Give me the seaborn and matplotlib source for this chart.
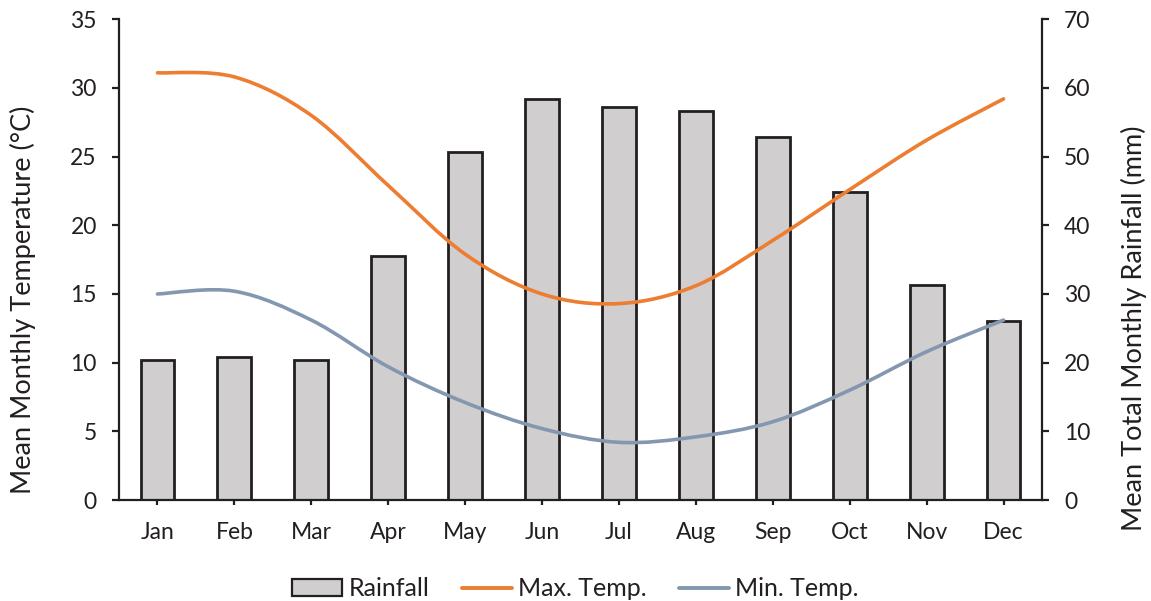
import numpy as np
import matplotlib
matplotlib.use("Agg")
import matplotlib.pyplot as plt
from matplotlib.path import Path
from matplotlib.patches import PathPatch, Patch
from matplotlib.lines import Line2D
import seaborn as sns

months = ["Jan", "Feb", "Mar", "Apr", "May", "Jun", "Jul", "Aug", "Sep", "Oct", "Nov", "Dec"]
rainfall = [20.4, 20.8, 20.4, 35.6, 50.6, 58.4, 57.2, 56.6, 52.9, 44.9, 31.3, 26.1]
max_temp = [31.1, 30.8, 28.0, 22.9, 17.9, 15.0, 14.3, 15.6, 18.9, 22.6, 26.2, 29.2]
min_temp = [15.0, 15.2, 13.1, 9.7, 7.1, 5.2, 4.2, 4.6, 5.7, 8.0, 10.8, 13.1]

sns.set_theme(style="white")
plt.rcParams["font.family"] = ["Lato", "DejaVu Sans"]

TXT = "#231F20"
BAR_FILL = "#D0CECE"
ORANGE = "#ED7D31"
BLUEGRAY = "#8497B0"

fig = plt.figure(figsize=(11.51, 6.01), dpi=100)
ax = fig.add_axes([0.1034, 0.168, 0.9053 - 0.1034, 0.968 - 0.168])
ax2 = ax.twinx()

# Bars (right axis)
sns.barplot(x=months, y=rainfall, ax=ax2, color=BAR_FILL, saturation=1,
            edgecolor=TXT, linewidth=2.0, width=0.44)


def smooth_path(xs, ys):
    pts = np.column_stack([xs, ys]).astype(float)
    n = len(pts)
    verts = [pts[0]]
    codes = [Path.MOVETO]
    for i in range(n - 1):
        p0 = pts[i - 1] if i > 0 else pts[i]
        p1 = pts[i]
        p2 = pts[i + 1]
        p3 = pts[i + 2] if i + 2 < n else pts[i + 1]
        c1 = p1 + (p2 - p0) / 6.0
        c2 = p2 - (p3 - p1) / 6.0
        verts += [c1, c2, p2]
        codes += [Path.CURVE4] * 3
    return Path(verts, codes)


xs = np.arange(len(months))
for vals, col in [(max_temp, ORANGE), (min_temp, BLUEGRAY)]:
    ax.add_patch(PathPatch(smooth_path(xs, vals), fill=False, edgecolor=col,
                           linewidth=2.6, capstyle="round", joinstyle="round"))

ax.set_zorder(ax2.get_zorder() + 1)
ax.patch.set_visible(False)

ax.set_xlim(-0.5, 11.5)
ax2.set_xlim(-0.5, 11.5)
ax.set_ylim(0, 35)
ax2.set_ylim(0, 70)
ax.set_yticks(np.arange(0, 36, 5))
ax2.set_yticks(np.arange(0, 71, 10))
ax.set_xticks(xs)
ax.set_xticklabels(months)
ax2.set_xlabel("")
ax2.set_ylabel("")

for a in (ax, ax2):
    for s in a.spines.values():
        s.set_visible(False)
ax.spines["left"].set_visible(True)
ax.spines["bottom"].set_visible(True)
ax2.spines["right"].set_visible(True)
for s in (ax.spines["left"], ax.spines["bottom"], ax2.spines["right"]):
    s.set_color(TXT)
    s.set_linewidth(1.6)

ax.tick_params(axis="y", direction="out", length=5, width=1.6, color=TXT,
               labelsize=16.5, labelcolor=TXT, pad=11, left=True)
ax.tick_params(axis="x", direction="out", length=3.6, width=1.6, color=TXT,
               labelsize=16.5, labelcolor=TXT, pad=12, bottom=True)
ax2.tick_params(axis="y", direction="out", length=5, width=1.6, color=TXT,
                labelsize=16.5, labelcolor=TXT, pad=11, right=True)
ax2.tick_params(axis="x", bottom=False, labelbottom=False)

ax.set_ylabel("Mean Monthly Temperature (°C)", fontsize=19.5, color=TXT)
ax2.set_ylabel("Mean Total Monthly Rainfall (mm)", fontsize=19.5, color=TXT)
ax.yaxis.set_label_coords(-0.090, 0.416)
ax2.yaxis.set_label_coords(1.0856, 0.358)

handles = [Patch(facecolor=BAR_FILL, edgecolor=TXT, linewidth=1.6),
           Line2D([], [], color=ORANGE, linewidth=2.8),
           Line2D([], [], color=BLUEGRAY, linewidth=2.8)]
fig.legend(handles, ["Rainfall", "Max. Temp.", "Min. Temp."],
           loc="center", bbox_to_anchor=(0.5, 0.02), ncol=3, frameon=False,
           fontsize=18, handlelength=2.0, handleheight=0.7, handletextpad=0.25,
           columnspacing=1.3, labelcolor=TXT)

fig.savefig("out.png", dpi=100)
